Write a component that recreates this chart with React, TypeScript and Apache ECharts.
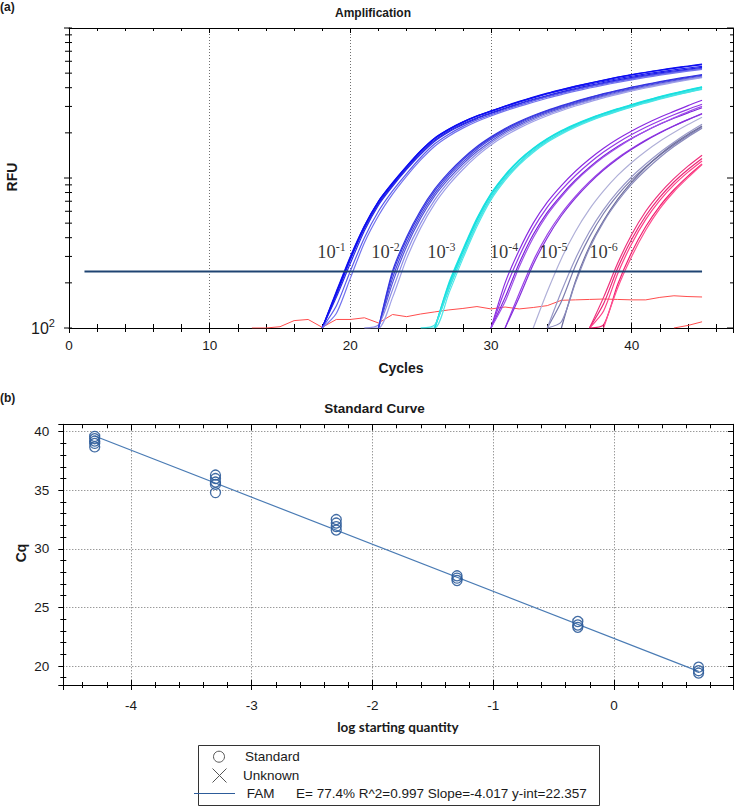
import React, { useEffect, useRef } from 'react';
import * as echarts from 'echarts';

// ---------------- (a) Amplification data ----------------
const CYCLE_MIN = 0;
const CYCLE_MAX = 47.2;
const RFU_MIN = 100;
const RFU_MAX = 10000;

// dilution 10^-1
const G1_START = [18, 18, 18, 18, 18, 18, 18];
const G1_COLORS = ['#1010ee', '#1a1af0', '#2020e8', '#2828e6', '#0c0cf2', '#5c5cec', '#7474ee'];
const G1 = [
  [100, 170, 290, 470, 690, 910, 1180, 1500, 1830, 2100, 2350, 2580, 2780, 3000, 3220, 3440, 3660, 3870, 4080, 4280, 4480, 4680, 4870, 5050, 5220, 5380, 5540, 5690],
  [100, 175, 300, 480, 700, 930, 1200, 1520, 1850, 2120, 2370, 2590, 2790, 3000, 3210, 3420, 3630, 3830, 4030, 4220, 4410, 4590, 4770, 4940, 5100, 5260, 5410, 5550],
  [100, 165, 285, 460, 675, 895, 1160, 1470, 1790, 2060, 2300, 2520, 2720, 2930, 3140, 3350, 3550, 3750, 3950, 4140, 4330, 4510, 4690, 4860, 5020, 5170, 5320, 5460],
  [100, 160, 270, 445, 660, 880, 1140, 1440, 1760, 2030, 2270, 2490, 2690, 2900, 3110, 3310, 3510, 3710, 3900, 4090, 4270, 4450, 4620, 4790, 4950, 5100, 5250, 5380],
  [100, 172, 295, 478, 700, 925, 1195, 1515, 1845, 2115, 2365, 2595, 2800, 3020, 3240, 3460, 3680, 3890, 4100, 4300, 4500, 4700, 4890, 5070, 5250, 5420, 5580, 5740],
  [100, 140, 240, 400, 600, 820, 1070, 1370, 1690, 1960, 2210, 2440, 2640, 2850, 3060, 3270, 3470, 3670, 3860, 4050, 4230, 4410, 4580, 4750, 4910, 5060, 5210, 5350],
  [100, 125, 215, 370, 560, 780, 1030, 1320, 1630, 1900, 2150, 2380, 2590, 2800, 3000, 3200, 3400, 3600, 3790, 3980, 4160, 4340, 4510, 4680, 4840, 5000, 5150, 5300],
];

// dilution 10^-2
const G2_START = [22, 22, 22, 21, 21, 22];
const G2_COLORS = ['#3c3ce0', '#4a4ade', '#5656dc', '#8c8ce4', '#a0a0e8', '#3434e2'];
const G2 = [
  [100, 230, 390, 590, 820, 1060, 1320, 1590, 1850, 2110, 2350, 2580, 2800, 3010, 3220, 3420, 3620, 3810, 4000, 4180, 4350, 4520, 4680, 4840],
  [100, 215, 370, 565, 790, 1030, 1280, 1550, 1810, 2070, 2310, 2540, 2760, 2970, 3170, 3370, 3570, 3760, 3940, 4120, 4290, 4460, 4620, 4780],
  [100, 200, 350, 540, 760, 990, 1240, 1500, 1760, 2020, 2260, 2490, 2710, 2920, 3120, 3320, 3510, 3700, 3880, 4060, 4230, 4400, 4560, 4710],
  [100, 105, 180, 320, 500, 715, 945, 1190, 1450, 1710, 1970, 2210, 2440, 2660, 2870, 3080, 3280, 3480, 3670, 3860, 4040, 4220, 4390, 4560, 4720],
  [100, 100, 160, 290, 465, 675, 900, 1140, 1400, 1660, 1910, 2150, 2380, 2600, 2810, 3020, 3220, 3420, 3610, 3800, 3980, 4160, 4330, 4500, 4660],
  [100, 240, 405, 610, 845, 1090, 1350, 1620, 1880, 2140, 2380, 2610, 2830, 3040, 3250, 3450, 3650, 3840, 4030, 4210, 4390, 4560, 4730, 4890],
];

// dilution 10^-3
const G3_START = [26, 26, 26, 25, 26, 25];
const G3_COLORS = ['#12e2e2', '#22e6e6', '#30e0e0', '#50e8e8', '#18dede', '#44e4e4'];
const G3 = [
  [100, 190, 320, 520, 770, 1030, 1300, 1560, 1810, 2040, 2260, 2470, 2670, 2860, 3050, 3250, 3450, 3640, 3830, 4010],
  [100, 200, 335, 540, 790, 1050, 1320, 1580, 1830, 2070, 2290, 2500, 2700, 2900, 3090, 3290, 3490, 3680, 3870, 4060],
  [100, 180, 305, 500, 745, 1000, 1265, 1525, 1775, 2005, 2225, 2435, 2635, 2825, 3015, 3210, 3400, 3590, 3770, 3950],
  [100, 100, 170, 290, 475, 715, 965, 1225, 1480, 1730, 1960, 2180, 2390, 2590, 2780, 2970, 3160, 3350, 3540, 3720, 3900],
  [100, 195, 328, 530, 780, 1040, 1310, 1570, 1820, 2055, 2275, 2485, 2685, 2880, 3070, 3270, 3470, 3660, 3850, 4035],
  [100, 105, 185, 305, 495, 735, 990, 1250, 1505, 1755, 1985, 2205, 2415, 2615, 2805, 2995, 3185, 3375, 3560, 3740, 3920],
];

// dilution 10^-4
const G4_START = [30, 30, 30, 31, 31, 30];
const G4_COLORS = ['#8a2be2', '#9438e6', '#7d22d8', '#9a40e8', '#8530dc', '#a050ea'];
const G4 = [
  [100, 200, 330, 500, 690, 890, 1110, 1340, 1580, 1820, 2060, 2300, 2540, 2780, 3040, 3300],
  [100, 180, 300, 460, 640, 830, 1040, 1260, 1490, 1720, 1950, 2180, 2410, 2640, 2870, 3100],
  [100, 160, 270, 420, 590, 770, 970, 1180, 1400, 1620, 1840, 2060, 2280, 2500, 2720, 2940],
  [100, 170, 280, 420, 580, 755, 945, 1150, 1360, 1570, 1790, 2010, 2230, 2450, 2670],
  [100, 160, 265, 400, 560, 735, 925, 1130, 1340, 1555, 1775, 1995, 2220, 2450, 2690],
  [100, 150, 255, 400, 570, 750, 950, 1160, 1380, 1600, 1830, 2060, 2290, 2520, 2760, 3000],
];

// dilution 10^-5
const G5_START = [33, 34, 34, 35, 34];
const G5_COLORS = ['#b0b0d8', '#7c7cae', '#9898c8', '#6c6c9c', '#8a8abc'];
const G5 = [
  [100, 175, 290, 440, 620, 820, 1040, 1270, 1510, 1760, 2010, 2270, 2540],
  [100, 150, 260, 405, 580, 770, 975, 1190, 1420, 1660, 1920, 2200],
  [100, 175, 290, 440, 615, 810, 1020, 1240, 1480, 1730, 2000, 2280],
  [100, 205, 350, 520, 720, 940, 1180, 1430, 1690, 1950, 2220],
  [100, 110, 200, 340, 510, 700, 910, 1130, 1370, 1620, 1880, 2150],
];

// dilution 10^-6
const G6_START = [37, 37, 37, 37, 38];
const G6_COLORS = ['#f0307c', '#e82878', '#ff4088', '#f02070', '#ff5090'];
const G6 = [
  [100, 160, 270, 420, 600, 790, 990, 1200, 1420],
  [100, 145, 250, 390, 560, 745, 940, 1140, 1350],
  [100, 130, 230, 365, 530, 710, 900, 1095, 1300],
  [100, 105, 195, 320, 475, 650, 835, 1030, 1240],
  [100, 185, 300, 450, 625, 810, 1005, 1230],
];

// no-template controls
const NTC1_CYCLES = [13, 14, 15, 16, 17, 18, 19, 20, 21, 22, 23, 24, 25, 26, 27, 28, 29, 30, 31, 32, 33, 34, 35, 36, 37, 38, 39, 40, 41, 42, 43, 44, 45];
const NTC1 = [100, 100, 102, 112, 114, 101, 114, 114, 117, 108, 123, 119, 124, 128, 132, 135, 139, 134, 138, 134, 137, 141, 153, 154, 155, 156, 155, 154, 154, 160, 164, 162, 161];
const NTC2_CYCLES = [43, 44, 45];
const NTC2 = [100, 104, 110];

const THRESHOLD_CYCLES = [1.1, 45];
const THRESHOLD_RFU = 238;

const LABEL_CYCLES = [18.66, 22.5, 26.47, 30.92, 34.43, 37.99];
const LABEL_EXP = ['-1', '-2', '-3', '-4', '-5', '-6'];
const LABEL_RFU = 319;

const LOG_TICKS = [100, 200, 300, 400, 500, 600, 700, 800, 900, 1000, 2000, 3000, 4000, 5000, 6000, 7000, 8000, 9000, 10000];

// ---------------- (b) Standard curve data ----------------
const LOGQ_MIN = -4.56;
const LOGQ_MAX = 0.985;
const CQ_MIN = 18.38;
const CQ_MAX = 40.63;
const STD_X = [-4.3, -3.3, -2.3, -1.3, -0.3, 0.7];
const STD_CQ = [
  [39.6, 39.4, 39.2, 39.0, 38.7],
  [36.3, 36.0, 35.7, 35.5, 34.8],
  [32.5, 32.2, 31.9, 31.6],
  [27.7, 27.5, 27.3],
  [23.8, 23.5, 23.3],
  [19.9, 19.6, 19.4],
];
const FIT_SLOPE = -4.017;
const FIT_INTERCEPT = 22.357;
const FIT_X = [-4.3, 0.7];

const SANS = '"Liberation Sans", Arial, sans-serif';
const SERIF = '"Liberation Serif", "Times New Roman", serif';
const TXT = '#1a1a1a';

function curveSeries(starts: number[], values: number[][], colors: string[]) {
  return values.map((vals, i) => ({
    type: 'line',
    xAxisIndex: 0,
    yAxisIndex: 0,
    data: vals.map((v, j) => [starts[i] + j, v]),
    showSymbol: false,
    symbol: 'none',
    silent: true,
    smooth: 0.25,
    lineStyle: { color: colors[i], width: 1.2 },
    z: 2,
  }));
}

function text(x: number, y: number, str: string, font: string, align = 'left', rotation = 0) {
  return {
    type: 'text',
    x,
    y,
    rotation,
    silent: true,
    style: {
      text: str,
      font,
      fill: TXT,
      align,
      textAlign: align,
      verticalAlign: 'middle',
      textVerticalAlign: 'middle',
    },
  };
}

export default function App() {
  const ref = useRef<HTMLDivElement>(null);

  useEffect(() => {
    document.body.style.margin = '0';
    if (!ref.current) return;
    const chart = echarts.init(ref.current, undefined, { renderer: 'svg' });

    const black = { color: '#000', width: 1 };
    const dotted = { show: true, lineStyle: { color: '#707070', width: 1, type: [1, 2] } };
    const labelStyle = { fontFamily: SANS, fontSize: 13.5, color: TXT };

    const stdPoints: number[][] = [];
    STD_X.forEach((x, i) => STD_CQ[i].forEach((c) => stdPoints.push([x, c])));

    const option: any = {
      animation: false,
      backgroundColor: '#fff',
      grid: [
        { left: 69, top: 28, width: 664, height: 300 },
        { left: 63.3, top: 424.3, width: 669.7, height: 260.7 },
      ],
      xAxis: [
        {
          gridIndex: 0, type: 'value', position: 'bottom', min: CYCLE_MIN, max: CYCLE_MAX, interval: 10,
          axisLine: { show: true, onZero: false, lineStyle: black },
          axisTick: { show: true, inside: false, length: 5, lineStyle: black },
          minorTick: { show: true, splitNumber: 5, length: 4, lineStyle: black },
          axisLabel: { ...labelStyle, margin: 10, showMaxLabel: false },
          splitLine: dotted,
        },
        {
          gridIndex: 0, type: 'value', position: 'bottom', min: CYCLE_MIN, max: CYCLE_MAX, interval: 10,
          axisLine: { show: false, onZero: false },
          axisTick: { show: true, inside: true, length: 5, lineStyle: black },
          minorTick: { show: true, splitNumber: 5, length: 4, lineStyle: black },
          axisLabel: { show: false },
          splitLine: { show: false },
        },
        {
          gridIndex: 0, type: 'value', position: 'top', min: CYCLE_MIN, max: CYCLE_MAX, interval: 10,
          axisLine: { show: true, onZero: false, lineStyle: black },
          axisTick: { show: true, inside: true, length: 5, lineStyle: black },
          minorTick: { show: true, splitNumber: 5, length: 3, lineStyle: black },
          axisLabel: { show: false },
          splitLine: { show: false },
        },
        {
          gridIndex: 1, type: 'value', position: 'bottom', min: LOGQ_MIN, max: LOGQ_MAX, splitNumber: 5,
          axisLine: { show: true, onZero: false, lineStyle: black },
          axisTick: { show: true, inside: false, length: 5, lineStyle: black },
          minorTick: { show: true, splitNumber: 5, length: 3, lineStyle: black },
          axisLabel: { ...labelStyle, margin: 13, showMinLabel: false, showMaxLabel: false },
          splitLine: dotted,
        },
        {
          gridIndex: 1, type: 'value', position: 'bottom', min: LOGQ_MIN, max: LOGQ_MAX, splitNumber: 5,
          axisLine: { show: false, onZero: false },
          axisTick: { show: true, inside: true, length: 5, lineStyle: black },
          minorTick: { show: true, splitNumber: 5, length: 3, lineStyle: black },
          axisLabel: { show: false },
          splitLine: { show: false },
        },
        {
          gridIndex: 1, type: 'value', position: 'top', min: LOGQ_MIN, max: LOGQ_MAX, splitNumber: 5,
          axisLine: { show: true, onZero: false, lineStyle: black },
          axisTick: { show: true, inside: true, length: 6, lineStyle: black },
          minorTick: { show: true, splitNumber: 5, length: 4, lineStyle: black },
          axisLabel: { show: false },
          splitLine: { show: false },
        },
      ],
      yAxis: [
        {
          gridIndex: 0, type: 'log', logBase: 10, position: 'left', min: RFU_MIN, max: RFU_MAX,
          axisLine: { show: true, onZero: false, lineStyle: black },
          axisTick: { show: false },
          axisLabel: { show: false },
          splitLine: { show: false },
        },
        {
          gridIndex: 0, type: 'log', logBase: 10, position: 'right', min: RFU_MIN, max: RFU_MAX,
          axisLine: { show: true, onZero: false, lineStyle: black },
          axisTick: { show: false },
          axisLabel: { show: false },
          splitLine: { show: false },
        },
        {
          gridIndex: 1, type: 'value', position: 'left', min: CQ_MIN, max: CQ_MAX, splitNumber: 5,
          axisLine: { show: true, onZero: false, lineStyle: black },
          axisTick: { show: true, inside: false, length: 5, lineStyle: black },
          minorTick: { show: true, splitNumber: 5, length: 3, lineStyle: black },
          axisLabel: { ...labelStyle, margin: 14, showMinLabel: false, showMaxLabel: false },
          splitLine: dotted,
        },
        {
          gridIndex: 1, type: 'value', position: 'left', min: CQ_MIN, max: CQ_MAX, splitNumber: 5,
          axisLine: { show: false, onZero: false },
          axisTick: { show: false, inside: true },
          minorTick: { show: true, splitNumber: 5, length: 3, lineStyle: black },
          axisLabel: { show: false },
          splitLine: { show: false },
        },
        {
          gridIndex: 1, type: 'value', position: 'right', min: CQ_MIN, max: CQ_MAX, splitNumber: 5,
          axisLine: { show: true, onZero: false, lineStyle: black },
          axisTick: { show: true, inside: true, length: 5, lineStyle: black },
          minorTick: { show: true, splitNumber: 5, length: 3, lineStyle: black },
          axisLabel: { show: false },
          splitLine: { show: false },
        },
      ],
      series: [
        ...curveSeries(G1_START, G1, G1_COLORS),
        ...curveSeries(G2_START, G2, G2_COLORS),
        ...curveSeries(G3_START, G3, G3_COLORS),
        ...curveSeries(G4_START, G4, G4_COLORS),
        ...curveSeries(G5_START, G5, G5_COLORS),
        ...curveSeries(G6_START, G6, G6_COLORS),
        {
          type: 'line', xAxisIndex: 0, yAxisIndex: 0, silent: true, symbol: 'none', showSymbol: false,
          data: NTC1_CYCLES.map((c, i) => [c, NTC1[i]]),
          lineStyle: { color: '#ff4d4d', width: 1 }, z: 1,
        },
        {
          type: 'line', xAxisIndex: 0, yAxisIndex: 0, silent: true, symbol: 'none', showSymbol: false,
          data: NTC2_CYCLES.map((c, i) => [c, NTC2[i]]),
          lineStyle: { color: '#ff4d4d', width: 1 }, z: 1,
        },
        {
          type: 'line', xAxisIndex: 0, yAxisIndex: 0, silent: true, symbol: 'none', showSymbol: false,
          data: THRESHOLD_CYCLES.map((c) => [c, THRESHOLD_RFU]),
          lineStyle: { color: '#1f4472', width: 2 }, z: 4,
        },
        {
          type: 'scatter', xAxisIndex: 0, yAxisIndex: 0, silent: true, symbolSize: 1,
          itemStyle: { color: 'rgba(0,0,0,0)' },
          data: LABEL_CYCLES.map((c) => [c, LABEL_RFU]),
          label: {
            show: true,
            position: 'inside',
            formatter: (p: any) => `{a|10}{b|${LABEL_EXP[p.dataIndex]}}`,
            rich: {
              a: { fontFamily: SERIF, fontSize: 18.5, color: '#000', lineHeight: 22 },
              b: { fontFamily: SERIF, fontSize: 12, color: '#000', lineHeight: 12, verticalAlign: 'top' },
            },
          },
          z: 6,
        },
        {
          type: 'custom', xAxisIndex: 0, yAxisIndex: 0, silent: true, clip: false,
          data: LOG_TICKS.map((v) => [CYCLE_MIN, v]),
          encode: { x: 0, y: 1 },
          renderItem: (params: any, api: any) => {
            const v = api.value(1);
            const pt = api.coord([CYCLE_MIN, v]);
            const cs = params.coordSys;
            const lg = Math.log10(v);
            const major = Math.abs(lg - Math.round(lg)) < 1e-6;
            const y = pt[1];
            const left = cs.x;
            const right = cs.x + cs.width;
            return {
              type: 'group',
              children: [
                { type: 'line', shape: { x1: left - (major ? 5 : 4), y1: y, x2: left + 3, y2: y }, style: { stroke: '#000', lineWidth: 1 } },
                { type: 'line', shape: { x1: right - (major ? 6 : 3), y1: y, x2: right, y2: y }, style: { stroke: '#000', lineWidth: 1 } },
              ],
            };
          },
          z: 5,
        },
        {
          type: 'line', xAxisIndex: 3, yAxisIndex: 2, silent: true, symbol: 'none', showSymbol: false,
          data: FIT_X.map((x) => [x, FIT_SLOPE * x + FIT_INTERCEPT]),
          lineStyle: { color: '#4a7bb4', width: 1.2 }, z: 2,
        },
        {
          type: 'scatter', xAxisIndex: 3, yAxisIndex: 2, silent: true, symbol: 'circle', symbolSize: 10,
          data: stdPoints,
          itemStyle: { color: 'rgba(255,255,255,0)', borderColor: '#2d5c9a', borderWidth: 1.3, opacity: 0.9 },
          z: 3,
        },
      ],
      graphic: [
        text(0, 7, '(a)', `bold 12px ${SANS}`),
        text(373, 13, 'Amplification', `bold 12px ${SANS}`, 'center'),
        text(12, 177, 'RFU', `bold 14px ${SANS}`, 'center', Math.PI / 2),
        text(401, 368, 'Cycles', `bold 14px ${SANS}`, 'center'),
        text(0, 398, '(b)', `bold 12px ${SANS}`),
        text(374.5, 408, 'Standard Curve', `bold 13.5px ${SANS}`, 'center'),
        text(21, 553, 'Cq', `bold 14px ${SANS}`, 'center', Math.PI / 2),
        text(398, 727, 'log starting quantity', `bold 13.5px Lato, ${SANS}`, 'center'),
        // RFU axis tick label 10^2
        {
          type: 'text', x: 31, y: 328, silent: true,
          style: {
            text: '{a|10}{b|2}',
            align: 'left', textAlign: 'left', verticalAlign: 'middle', textVerticalAlign: 'middle',
            rich: {
              a: { fontFamily: SANS, fontSize: 16, fill: TXT, color: TXT, lineHeight: 22 },
              b: { fontFamily: SANS, fontSize: 11, fill: TXT, color: TXT, lineHeight: 11, verticalAlign: 'top' },
            },
          },
        },
        {
          type: 'rect', silent: true,
          shape: { x: 198.5, y: 745.5, width: 401, height: 60 },
          style: { fill: '#fff', stroke: '#333', lineWidth: 1 },
          z: 10,
        },
        {
          type: 'circle', silent: true,
          shape: { cx: 219, cy: 756.7, r: 5.5 },
          style: { fill: 'none', stroke: '#555', lineWidth: 1 },
          z: 11,
        },
        {
          type: 'line', silent: true,
          shape: { x1: 212.5, y1: 768.5, x2: 226.5, y2: 782.5 },
          style: { stroke: '#555', lineWidth: 1 },
          z: 11,
        },
        {
          type: 'line', silent: true,
          shape: { x1: 226.5, y1: 768.5, x2: 212.5, y2: 782.5 },
          style: { stroke: '#555', lineWidth: 1 },
          z: 11,
        },
        {
          type: 'line', silent: true,
          shape: { x1: 194, y1: 793.5, x2: 235, y2: 793.5 },
          style: { stroke: '#2d5c9a', lineWidth: 1 },
          z: 11,
        },
        { ...text(245, 756.7, 'Standard', `13.5px ${SANS}`), z: 11 },
        { ...text(243, 775, 'Unknown', `13.5px ${SANS}`), z: 11 },
        { ...text(246.7, 793.3, 'FAM', `13.5px ${SANS}`), z: 11 },
        { ...text(296, 793.3, 'E= 77.4% R^2=0.997 Slope=-4.017 y-int=22.357', `13.5px ${SANS}`), z: 11 },
      ],
    };

    chart.setOption(option);
    return () => chart.dispose();
  }, []);

  return <div ref={ref} style={{ width: 735, height: 807 }} />;
}
